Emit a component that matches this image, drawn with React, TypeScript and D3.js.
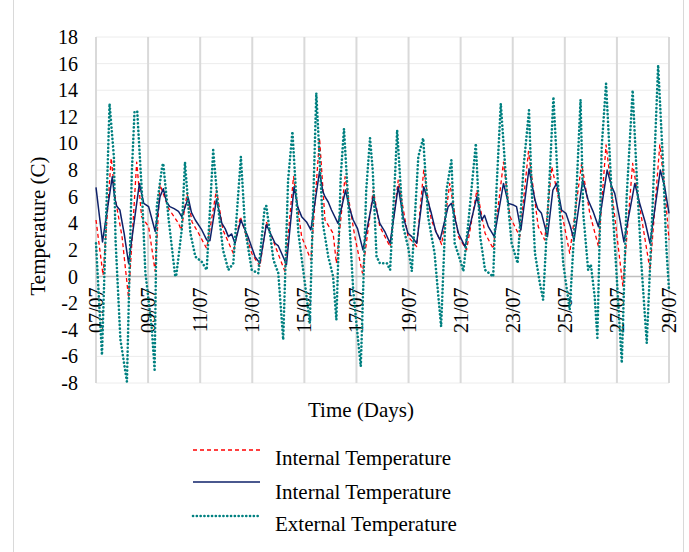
import React from 'react';
import * as d3 from 'd3';

// [hour since 07/07 00:00, temperature C]
const internalDashed: [number, number][] = [
    [0, 4.25], [6.5, 0.1], [14, 8.9], [18, 5.75], [24, 3.0], [30, -1.6], [37.5, 8.6], [42, 4.5], [48.5, 3.75],
    [54.5, 0.4], [59, 6.9], [67, 5.1], [76, 4.0], [78.5, 3.5], [84, 6.25], [88.5, 4.1], [94.5, 3.25], [102, 2.1],
    [111, 6.5], [117, 3.5], [126.5, 1.75], [133, 4.5], [143.5, 1.75], [151, 0.75], [157, 4.1], [166.5, 2.0],
    [174, 0.4], [182, 7.5], [189.5, 3.0], [198, 1.25], [206, 10.4], [211, 4.25], [218.5, 3.25], [221.5, 1.0],
    [229.5, 7.5], [238.5, 3.0], [245.5, 0.25], [255.5, 6.5], [261.5, 3.75], [271, 2.25], [278.5, 7.25],
    [287.5, 3.0], [295.5, 2.25], [302, 8.0], [309, 4.25], [318.5, 2.4], [326, 7.0], [334, 3.0], [341.5, 2.0],
    [351, 6.5], [358.5, 3.25], [366, 2.1], [375.5, 8.6], [381.5, 4.5], [390.5, 3.0], [398.5, 9.4], [407.5, 3.75],
    [413.5, 2.75], [420, 8.25], [430.5, 4.25], [436.5, 1.75], [447.5, 8.5], [455, 4.75], [463, 2.25], [470, 9.9],
    [478, 4.5], [485.5, -0.75], [494.5, 8.5], [504, 3.75], [510.5, 0.5], [519.5, 9.9], [524, 6.75], [528, 2.75]
];

const internalSolid: [number, number][] = [
    [0, 6.7], [6, 2.6], [15, 7.5], [17, 6.0], [19, 5.3], [22, 5.0], [26, 3.2], [30, 1.0], [40, 7.0], [44, 5.5], [48.5, 5.25],
    [54.5, 3.4], [59, 6.0], [62, 6.6], [65, 5.6], [68, 5.25], [72, 5.1], [76, 4.9], [79, 4.5], [85, 5.9], [88, 4.8], [91.5, 4.25], [97.5, 3.5],
    [102, 2.75], [105, 2.7], [111, 5.8], [116, 4.0], [119, 3.6], [122, 3.0], [125, 3.2], [128, 2.5], [133.5, 4.25], [140, 3.0],
    [146.5, 1.5], [151, 1.0], [157, 3.9], [161, 3.2], [165, 2.5], [168, 2.3], [171, 1.75], [175.5, 0.9], [182.5, 6.75], [186, 5.2], [189.5, 4.5],
    [194, 4.1], [198, 3.5], [206, 7.9], [209, 6.4], [211, 6.0], [214, 5.6], [217, 5.0], [223, 4.0], [230, 6.5], [233, 5.3], [237, 4.25], [241, 3.6], [246, 2.0],
    [255.5, 6.0], [261.5, 4.0], [266, 3.4], [271, 2.5], [278.5, 6.75], [283, 4.5], [287.5, 3.25], [291, 3.0], [295.5, 2.5], [302, 6.75], [309, 4.75],
    [313, 3.4], [317, 2.75], [324.5, 5.25], [327.5, 5.5], [334, 3.25], [340, 2.25], [351, 6.0], [355.5, 4.25], [358, 4.6], [361.5, 3.75],
    [367, 3.0], [375.5, 7.0], [380, 5.5], [384, 5.4], [387.5, 5.25], [391.5, 3.5], [399, 8.1], [404.5, 5.75], [407, 5.1], [410.5, 4.75],
    [416, 3.0], [421, 6.5], [424.5, 7.0], [429, 5.0], [433, 4.75], [437, 3.8], [440.5, 2.75], [448.5, 7.25], [453.5, 5.75],
    [458, 4.9], [463, 3.75], [471, 8.0], [475, 6.8], [478, 6.25], [482, 4.6], [486.5, 2.6], [496.5, 7.0], [501, 5.5], [506, 4.1], [510.5, 2.5], [520, 8.0],
    [524, 6.75], [528, 4.75]
];

const external: [number, number][] = [
    [0, 2.5], [5.5, -5.9], [12.5, 13.0], [16.5, 9.0], [18, 2.75], [22.5, -4.75], [28.5, -7.9], [33, 7.8],
    [35.5, 12.4], [38, 12.4], [42.5, 6.0], [45.5, 0.25], [47, -0.75], [51.5, -4.0], [54, -7.0], [56, 5.25],
    [61, 8.3], [62, 8.5], [67, 4.25], [73, 0.0], [74, 0.1], [79, 3.5], [82, 8.6], [87, 3.25], [91.5, 1.5],
    [97.5, 1.1], [102, 0.5], [108, 9.5], [112.5, 5.25], [117, 2.0], [122, 0.5], [126.5, 1.0], [133.5, 9.0],
    [137.5, 3.5], [143.5, 0.5], [149.5, 0.25], [155.5, 5.25], [157, 5.3], [163.5, 1.25], [168, 0.25],
    [172.5, -4.75], [177, 7.25], [181, 10.9], [186.5, 3.25], [192.5, -0.5], [197, -3.5], [203, 13.8], [209, 4.0],
    [214, 1.5], [218.5, 0.0], [221.5, -3.25], [225.5, 7.5], [228.5, 11.1], [232.5, 5.5], [237, -1.0],
    [241.5, -4.75], [244, -6.75], [249, 6.5], [252.5, 10.4], [255, 8.0], [258.5, 1.5], [261.5, 1.0], [268, 1.0],
    [271, 0.5], [275.5, 7.5], [277.5, 11.0], [283, 3.75], [287.5, 2.25], [291, 0.4], [297, 9.0], [301.5, 10.4],
    [306, 4.5], [312, 1.75], [315.5, -1.5], [318, -3.75], [323, 6.5], [327.5, 8.75], [330.5, 2.5], [335.5, 1.25],
    [338.5, 0.4], [343, 4.0], [350, 10.0], [354, 3.0], [358.5, 0.5], [366, 0.0], [369, 6.5], [373, 13.0],
    [378.5, 6.5], [383, 2.5], [388.5, 1.0], [394, 8.25], [399, 12.5], [401.5, 6.5], [404.5, 1.75], [409, -0.5],
    [412, -1.75], [418, 7.5], [421.5, 13.5], [425.5, 7.25], [430.5, 1.0], [436.5, -2.5], [442.5, 6.0],
    [446.5, 13.3], [449, 4.75], [453.5, 0.5], [456, 0.9], [459.5, -1.5], [462, -4.6], [466, 9.75], [470, 14.5],
    [475, 6.5], [480, -0.25], [484.5, -6.5], [489, 6.0], [494.5, 14.0], [498, 8.0], [502.5, 1.0], [507.5, -5.0],
    [512, 3.5], [518, 15.9], [522.5, 8.5], [525.5, 2.25], [528, -1.0]
];

const yTicks = [-8, -6, -4, -2, 0, 2, 4, 6, 8, 10, 12, 14, 16, 18];
const xTickLabels = ['07/07', '09/07', '11/07', '13/07', '15/07', '17/07', '19/07', '21/07', '23/07', '25/07', '27/07', '29/07'];
const legendLabels = ['Internal Temperature', 'Internal Temperature', 'External Temperature'];

const App = () => {
    const width = 689;
    const height = 552;
    const left = 96, right = 669, top = 37, bottom = 383;

    const x = d3.scaleLinear().domain([0, 528]).range([left, right]);
    const y = d3.scaleLinear().domain([-8, 18]).range([bottom, top]);
    const line = d3.line<[number, number]>().x(d => x(d[0])).y(d => y(d[1]));

    const series = [
        { data: internalDashed, stroke: '#ff0000', width: 1.3, dash: '4,3', cap: 'butt' },
        { data: internalSolid, stroke: '#0e2169', width: 1.5, dash: undefined, cap: 'butt' },
        { data: external, stroke: '#008080', width: 2.6, dash: '0.1,3.7', cap: 'round' }
    ];
    const legendY = [450, 482, 516];
    const legendTextY = [465, 499, 531];

    return (
        <svg width={width} height={height}
            style={{ position: 'absolute', left: 0, top: 0, background: '#fff', fontFamily: 'Liberation Serif' }}>
            <rect x={13.5} y={-1} width={670} height={555} fill="#fff" stroke="#d9d9d9" />
            {/* horizontal grid */}
            {yTicks.filter(t => t !== 0).map(t => (
                <line key={'h' + t} x1={left} x2={right} y1={y(t)} y2={y(t)} stroke="#ececec" strokeWidth={1} />
            ))}
            {/* vertical grid every 2 days */}
            {xTickLabels.map((_, i) => (
                <line key={'v' + i} x1={x(i * 48)} x2={x(i * 48)} y1={top} y2={bottom} stroke="#d9d9d9" strokeWidth={2} />
            ))}
            <line x1={left} x2={right} y1={y(0)} y2={y(0)} stroke="#bfbfbf" strokeWidth={1.5} />

            {yTicks.map(t => (
                <text key={'yt' + t} x={78} y={y(t) + 7} textAnchor="end" fontSize={20} fill="#000">{t}</text>
            ))}
            {xTickLabels.map((lab, i) => (
                <text key={'xt' + i} transform={`translate(${x(i * 48) + 7},${y(0) + 11}) rotate(-90)`} textAnchor="end"
                    fontSize={20} fill="#000">{lab}</text>
            ))}

            {series.map((s, i) => (
                <path key={'s' + i} d={line(s.data) || ''} fill="none" stroke={s.stroke} strokeWidth={s.width}
                    strokeDasharray={s.dash} strokeLinecap={s.cap as any} strokeLinejoin="round" />
            ))}

            <text transform={`translate(45,226) rotate(-90)`} textAnchor="middle" fontSize={21}>Temperature (C)</text>
            <text x={361} y={417} textAnchor="middle" fontSize={21}>Time (Days)</text>

            {series.map((s, i) => (
                <g key={'lg' + i}>
                    <line x1={193} x2={260} y1={legendY[i]} y2={legendY[i]} stroke={s.stroke} strokeWidth={s.width}
                        strokeDasharray={s.dash} strokeLinecap={s.cap as any} />
                    <text x={275} y={legendTextY[i]} fontSize={21}>{legendLabels[i]}</text>
                </g>
            ))}
        </svg>
    );
};

export default App;
